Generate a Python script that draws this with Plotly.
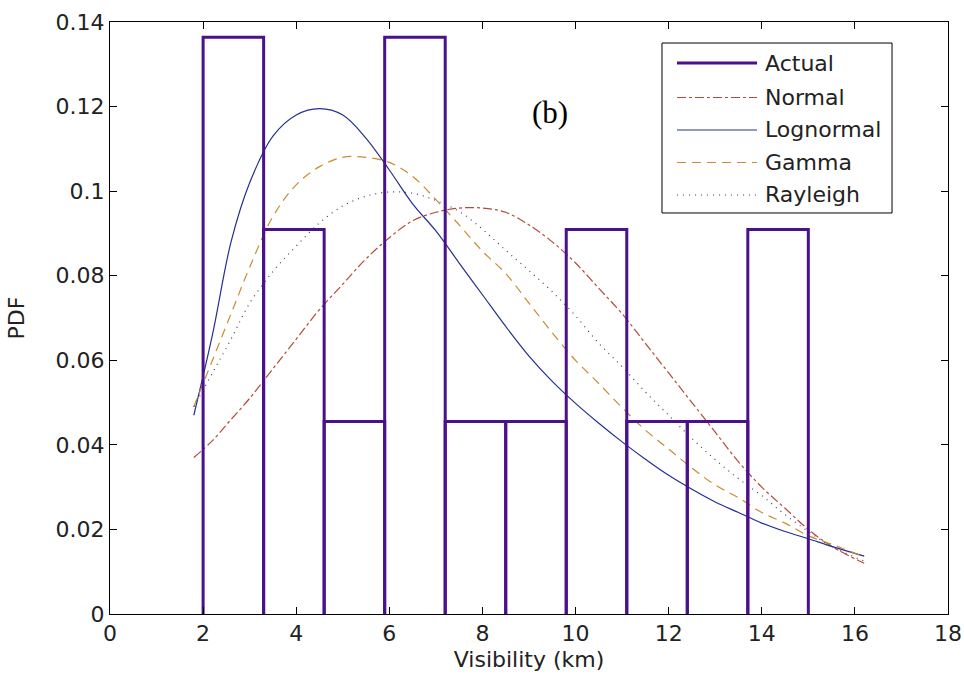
import plotly.graph_objects as go

# ---- data ----
bin_edges = [2.0, 3.3, 4.6, 5.9, 7.2, 8.5, 9.8, 11.1, 12.4, 13.7, 15.0]
bin_heights = [0.1364, 0.0909, 0.0455, 0.1364, 0.0455, 0.0455, 0.0909, 0.0455, 0.0455, 0.0909]

x_fit = [1.8, 2.2, 2.6, 3.0, 3.5, 4.0, 4.5, 5.0, 5.5, 6.0, 6.5, 7.0, 7.5, 8.0, 8.5,
         9.0, 9.5, 10.0, 10.5, 11.0, 11.5, 12.0, 12.5, 13.0, 13.5, 14.0, 14.5, 15.0, 15.5, 16.2]
normal_pdf = [0.037, 0.041, 0.046, 0.051, 0.058, 0.065, 0.072, 0.078, 0.084, 0.089, 0.093, 0.095,
              0.096, 0.096, 0.095, 0.092, 0.088, 0.083, 0.077, 0.071, 0.064, 0.057, 0.050, 0.043,
              0.036, 0.030, 0.025, 0.020, 0.016, 0.012]
lognormal_pdf = [0.047, 0.066, 0.088, 0.102, 0.113, 0.118, 0.1195, 0.118, 0.1125, 0.105, 0.097,
                 0.0906, 0.083, 0.0755, 0.068, 0.061, 0.055, 0.0498, 0.0451, 0.0407, 0.0366, 0.0328,
                 0.0295, 0.0265, 0.024, 0.0215, 0.0195, 0.0178, 0.016, 0.0137]
gamma_pdf = [0.049, 0.060, 0.071, 0.082, 0.094, 0.1015, 0.1058, 0.108, 0.108, 0.1068, 0.1035,
             0.098, 0.092, 0.0858, 0.0805, 0.0735, 0.0665, 0.060, 0.0545, 0.0488, 0.0435, 0.039,
             0.0345, 0.0305, 0.0275, 0.024, 0.0215, 0.0185, 0.0165, 0.0135]
rayleigh_pdf = [0.049, 0.057, 0.065, 0.0735, 0.081, 0.087, 0.0925, 0.0965, 0.0988, 0.0998, 0.0995,
                0.0978, 0.0952, 0.091, 0.086, 0.0812, 0.0762, 0.0705, 0.064, 0.0585, 0.0525,
                0.047, 0.0415, 0.0365, 0.032, 0.028, 0.0235, 0.0195, 0.016, 0.0125]

series_names = ["Actual", "Normal", "Lognormal", "Gamma", "Rayleigh"]
x_ticks = [0, 2, 4, 6, 8, 10, 12, 14, 16, 18]
y_ticks = [0, 0.02, 0.04, 0.06, 0.08, 0.1, 0.12, 0.14]

# ---- styles ----
styles = {
    "Actual":    dict(color="#4a118a", width=3),
    "Normal":    dict(color="#b54a3a", width=1.2, dash="dashdot"),
    "Lognormal": dict(color="#25308f", width=1.2),
    "Gamma":     dict(color="#c88c2e", width=1.2, dash="9px,6px"),
    "Rayleigh":  dict(color="#3c3c6a", width=1.2, dash="1px,5px"),
}

# ---- histogram outline path built from the bins ----
hx, hy = [], []
for i, h in enumerate(bin_heights):
    l, r = bin_edges[i], bin_edges[i + 1]
    hx += [l, l, r, r, None]
    hy += [0, h, h, 0, None]

FONT = "DejaVu Sans, Arial, sans-serif"
FS = 22
fig = go.Figure()

for name, ys in [("Normal", normal_pdf), ("Lognormal", lognormal_pdf),
                 ("Gamma", gamma_pdf), ("Rayleigh", rayleigh_pdf)]:
    fig.add_trace(go.Scatter(x=x_fit, y=ys, mode="lines", name=name,
                             line=dict(shape="spline", **styles[name]), showlegend=False))
fig.add_trace(go.Scatter(x=hx, y=hy, mode="lines", name="Actual",
                         line=styles["Actual"], showlegend=False))

axis_common = dict(showline=True, linecolor="black", linewidth=1, mirror="ticks",
                   ticks="inside", ticklen=7, tickcolor="black", showgrid=False,
                   zeroline=False, automargin=False,
                   tickfont=dict(family=FONT, size=FS, color="#222"))

# ---- legend box drawn as layout decoration (paper coordinates) ----
leg_x0, leg_x1, leg_y0, leg_y1 = 0.6587, 0.9332, 0.6774, 0.9645
row_y = [0.9307, 0.8725, 0.8176, 0.7627, 0.7078]
samp_x0, samp_x1, text_x = 0.6766, 0.7721, 0.7795
shapes = [dict(type="rect", xref="paper", yref="paper", x0=leg_x0, x1=leg_x1,
               y0=leg_y0, y1=leg_y1, line=dict(color="black", width=1),
               fillcolor="white", layer="above")]
annotations = []
for name, yy in zip(series_names, row_y):
    st = dict(styles[name])
    shapes.append(dict(type="line", xref="paper", yref="paper", x0=samp_x0, x1=samp_x1,
                       y0=yy, y1=yy, line=st, layer="above"))
    annotations.append(dict(text=name, x=text_x, y=yy, xref="paper", yref="paper",
                            xanchor="left", yanchor="middle", showarrow=False,
                            font=dict(family=FONT, size=FS, color="#222")))
annotations.append(dict(text="(b)", x=0.525, y=0.88, xref="paper", yref="paper",
                        showarrow=False,
                        font=dict(family="Liberation Serif, Times New Roman, serif",
                                  size=31, color="black")))

fig.update_layout(
    width=964, height=682,
    margin=dict(l=110, r=16, t=22, b=68),
    paper_bgcolor="white", plot_bgcolor="white",
    font=dict(family=FONT, size=FS, color="#222"),
    xaxis=dict(range=[0, 18], tickvals=x_ticks,
               title=dict(text="Visibility (km)", font=dict(family=FONT, size=FS), standoff=6),
               **axis_common),
    yaxis=dict(range=[0, 0.14], tickvals=y_ticks,
               title=dict(text="PDF", font=dict(family=FONT, size=FS), standoff=24),
               **axis_common),
    showlegend=False,
    shapes=shapes,
    annotations=annotations,
)

fig.write_html("out.html")
